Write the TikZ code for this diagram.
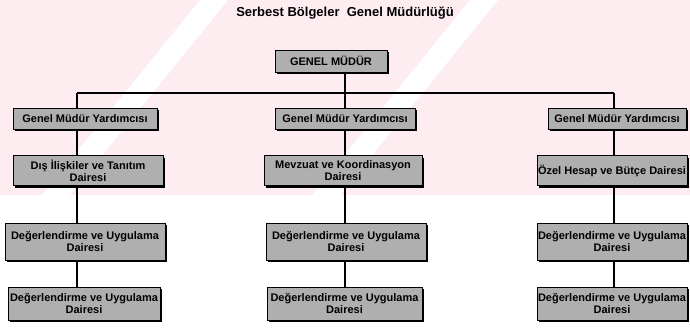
\documentclass[tikz,border=0pt]{standalone}
\usepackage{fontspec}
\setmainfont{Liberation Sans}
\usetikzlibrary{shadows}
\definecolor{boxgray}{RGB}{175,175,175}
\definecolor{wmpink}{RGB}{253,236,240}
\tikzset{
  orgbox/.style={draw=black, line width=0.6pt, fill=boxgray, align=center, inner sep=0pt,
    font=\bfseries\fontsize{11}{12}\selectfont,
    drop shadow={shadow xshift=2pt, shadow yshift=-2pt, fill=black, opacity=1}},
  conn/.style={line width=1.4pt, draw=black},
  wmstripe/.style={fill=white}
}
\begin{document}
\begin{tikzpicture}[x=1pt,y=-1pt]
\clip (0,0) rectangle (690,332);
\fill[white] (0,0) rectangle (690,332);
% faint watermark tint
\fill[wmpink] (0,0) rectangle (690,195);
\fill[wmstripe] (200,0) -- (228,0) -- (70,195) -- (42,195) -- cycle;
\fill[wmstripe] (470,0) -- (498,0) -- (340,195) -- (312,195) -- cycle;
\node[font=\bfseries\fontsize{13}{15}\selectfont] (title) at (345,13) {Serbest Bölgeler\ \ Genel Müdürlüğü};
% top
\node[orgbox, minimum width=112pt, minimum height=22pt] (gm) at (331,61) {GENEL MÜDÜR};
% left column
\node[orgbox, minimum width=144pt, minimum height=21pt] (y1l) at (85,118.5) {Genel Müdür Yardımcısı};
\node[orgbox, minimum width=150pt, minimum height=30pt] (d2l) at (88,170.5) {Dış İlişkiler ve Tanıtım\\Dairesi};
\node[orgbox, minimum width=160pt, minimum height=37pt] (e3l) at (85,241.5) {Değerlendirme ve Uygulama\\Dairesi};
\node[orgbox, minimum width=152pt, minimum height=33pt] (e4l) at (84,303.5) {Değerlendirme ve Uygulama\\Dairesi};
% middle column
\node[orgbox, minimum width=140pt, minimum height=21pt] (y1m) at (345,118.5) {Genel Müdür Yardımcısı};
\node[orgbox, minimum width=158pt, minimum height=30pt] (d2m) at (343,170.5) {Mevzuat ve Koordinasyon\\Dairesi};
\node[orgbox, minimum width=160pt, minimum height=37pt] (e3m) at (346,241.5) {Değerlendirme ve Uygulama\\Dairesi};
\node[orgbox, minimum width=155pt, minimum height=33pt] (e4m) at (344.5,303.5) {Değerlendirme ve Uygulama\\Dairesi};
% right column
\node[orgbox, minimum width=138pt, minimum height=21pt] (y1r) at (617,118.5) {Genel Müdür Yardımcısı};
\node[orgbox, minimum width=150pt, minimum height=30pt] (d2r) at (612,170.5) {Özel Hesap ve Bütçe Dairesi};
\node[orgbox, minimum width=150pt, minimum height=37pt] (e3r) at (612,241.5) {Değerlendirme ve Uygulama\\Dairesi};
\node[orgbox, minimum width=150pt, minimum height=33pt] (e4r) at (612,303.5) {Değerlendirme ve Uygulama\\Dairesi};
% connectors
\coordinate (hl) at (77,93);
\coordinate (hm) at (345,93);
\coordinate (hr) at (614,93);
\draw[conn] (hl) -- (hr);
\draw[conn] (gm.south -| hm) -- (y1m.north -| hm);
\draw[conn] (hl) -- (y1l.north -| hl);
\draw[conn] (hr) -- (y1r.north -| hr);
\draw[conn] (y1l.south -| hl) -- (d2l.north -| hl);
\draw[conn] (d2l.south -| hl) -- (e3l.north -| hl);
\draw[conn] (e3l.south -| hl) -- (e4l.north -| hl);
\draw[conn] (y1m.south -| hm) -- (d2m.north -| hm);
\draw[conn] (d2m.south -| hm) -- (e3m.north -| hm);
\draw[conn] (e3m.south -| hm) -- (e4m.north -| hm);
\draw[conn] (y1r.south -| hr) -- (d2r.north -| hr);
\draw[conn] (d2r.south -| hr) -- (e3r.north -| hr);
\draw[conn] (e3r.south -| hr) -- (e4r.north -| hr);
\end{tikzpicture}
\end{document}
